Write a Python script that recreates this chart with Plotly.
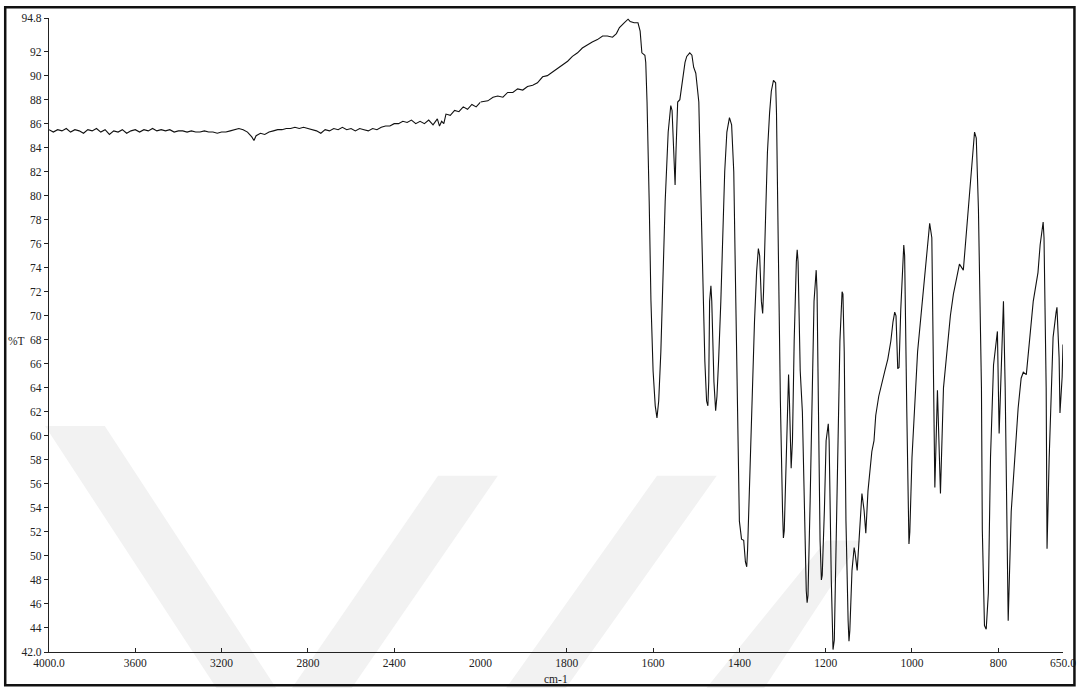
import plotly.graph_objects as go

# ---------------- data ----------------
wavenumber_high = [
    4000, 3980, 3960, 3940, 3920, 3900, 3880, 3860, 3840, 3820, 3800, 3780, 3760, 3740, 3720,
    3700, 3680, 3660, 3640, 3620, 3600, 3580, 3560, 3540, 3520, 3500, 3480, 3460, 3440, 3420,
    3400, 3380, 3360, 3340, 3320, 3300, 3280, 3260, 3240, 3220, 3200, 3180, 3160, 3140, 3120,
    3100, 3080, 3060, 3050, 3040, 3020, 3000, 2980, 2960, 2940, 2920, 2900, 2880, 2860, 2840,
    2820, 2800, 2780, 2760, 2740, 2720, 2700, 2680, 2660, 2640, 2620, 2600, 2580, 2560, 2540,
    2520, 2500, 2480, 2460, 2440, 2420, 2400, 2380, 2360, 2340, 2320, 2300, 2280, 2260, 2240,
    2220, 2200, 2190, 2180, 2170, 2160, 2140, 2120, 2100, 2080, 2060, 2040, 2020, 2000,
]
transmittance_high = [
    85.5, 85.3, 85.5, 85.4, 85.6, 85.3, 85.5, 85.4, 85.2, 85.5, 85.4, 85.6, 85.3, 85.5, 85.1,
    85.4, 85.3, 85.5, 85.2, 85.4, 85.5, 85.3, 85.5, 85.4, 85.6, 85.4, 85.5, 85.4, 85.5, 85.3,
    85.4, 85.4, 85.3, 85.4, 85.3, 85.3, 85.4, 85.3, 85.3, 85.2, 85.3, 85.3, 85.4, 85.5, 85.6,
    85.5, 85.3, 84.9, 84.6, 85.0, 85.2, 85.1, 85.3, 85.4, 85.5, 85.5, 85.6, 85.6, 85.7, 85.6,
    85.7, 85.6, 85.5, 85.4, 85.2, 85.5, 85.4, 85.6, 85.5, 85.7, 85.5, 85.6, 85.4, 85.6, 85.5,
    85.4, 85.6, 85.5, 85.7, 85.8, 85.8, 86.0, 86.0, 86.2, 86.1, 86.3, 86.0, 86.2, 86.0, 86.3,
    85.9, 86.4, 85.8, 86.2, 86.0, 86.8, 86.7, 87.1, 87.0, 87.4, 87.2, 87.6, 87.4, 87.8,
]

wavenumber_low = [
    2000, 1983, 1971, 1960, 1948, 1937, 1925, 1914, 1902, 1891, 1879, 1868, 1856, 1845, 1833,
    1821, 1810, 1798, 1787, 1775, 1764, 1752, 1741, 1729, 1717, 1706, 1694, 1685, 1678, 1667,
    1658, 1653, 1644, 1635, 1630, 1626, 1619, 1617, 1614, 1609, 1605, 1600, 1595, 1591, 1587,
    1582, 1577, 1572, 1565, 1561, 1559, 1556, 1554, 1549, 1547, 1543, 1538, 1533, 1526, 1522,
    1515, 1510, 1506, 1501, 1494, 1490, 1485, 1480, 1476, 1473, 1471, 1469, 1466, 1464, 1459,
    1455, 1452, 1450, 1448, 1443, 1439, 1434, 1429, 1425, 1423, 1418, 1413, 1409, 1404, 1400,
    1395, 1390, 1386, 1383, 1381, 1376, 1372, 1365, 1360, 1356, 1353, 1349, 1346, 1344, 1339,
    1335, 1330, 1326, 1321, 1316, 1314, 1310, 1305, 1300, 1298, 1296, 1291, 1286, 1284, 1280,
    1277, 1273, 1268, 1266, 1264, 1259, 1254, 1250, 1245, 1243, 1241, 1236, 1231, 1227, 1222,
    1220, 1217, 1213, 1210, 1208, 1203, 1199, 1194, 1192, 1187, 1183, 1180, 1176, 1171, 1167,
    1162, 1160, 1157, 1153, 1148, 1146, 1144, 1139, 1134, 1132, 1127, 1123, 1116, 1111, 1107,
    1102, 1097, 1093, 1088, 1084, 1077, 1070, 1063, 1056, 1049, 1044, 1040, 1037, 1033, 1030,
    1026, 1019, 1017, 1012, 1007, 1005, 1000, 987, 980, 973, 964, 959, 954, 947, 941,
    934, 927, 917, 911, 904, 890, 881, 876, 869, 862, 855, 851, 846, 839, 837,
    832, 828, 823, 818, 811, 802, 798, 793, 788, 784, 779, 777, 770, 761, 754,
    747, 742, 735, 731, 726, 719, 708, 703, 696, 694, 689, 687, 682, 678, 673,
    666, 664, 659, 657, 652, 650,
]
transmittance_low = [
    87.8, 87.9, 88.2, 88.3, 88.2, 88.6, 88.6, 88.9, 88.8, 89.1, 89.2, 89.4, 89.9, 90.0, 90.3,
    90.6, 90.9, 91.2, 91.6, 91.9, 92.3, 92.6, 92.8, 93.0, 93.3, 93.3, 93.2, 93.5, 94.0, 94.4,
    94.7, 94.5, 94.4, 94.4, 93.7, 91.9, 91.7, 91.1, 87.8, 79.5, 71.3, 65.4, 62.5, 61.5, 62.9,
    67.0, 74.5, 79.5, 85.3, 87.3, 87.5, 87.1, 85.3, 80.9, 83.6, 87.8, 88.0, 89.4, 91.1, 91.6,
    91.9, 91.7, 90.7, 90.2, 87.8, 81.2, 72.8, 66.2, 62.9, 62.5, 64.5, 71.2, 72.5, 71.2, 64.5,
    62.1, 63.3, 66.0, 66.4, 71.2, 77.0, 82.0, 85.3, 86.3, 86.5, 85.9, 82.0, 72.8, 61.2, 52.9,
    51.4, 51.3, 49.5, 49.1, 50.5, 56.3, 62.9, 69.5, 73.7, 75.6, 75.0, 71.2, 70.2, 72.0, 78.6,
    83.6, 86.9, 88.7, 89.6, 89.4, 86.9, 75.3, 62.9, 53.8, 51.5, 52.1, 59.6, 65.1, 62.9, 57.3,
    59.6, 67.9, 74.5, 75.5, 74.5, 65.4, 62.0, 54.6, 47.1, 46.1, 46.7, 54.6, 64.5, 71.2, 73.8,
    72.0, 62.9, 51.3, 48.0, 48.4, 53.8, 59.6, 61.0, 59.6, 48.0, 42.2, 43.0, 51.3, 60.4, 67.9,
    72.0, 71.8, 67.0, 52.9, 44.6, 42.9, 43.8, 48.8, 50.7, 50.3, 48.8, 51.3, 55.2, 53.8, 51.9,
    55.4, 57.3, 58.7, 59.6, 61.7, 63.3, 64.5, 65.4, 66.4, 67.9, 69.5, 70.3, 70.0, 65.6, 65.7,
    70.5, 75.9, 75.0, 62.0, 51.0, 52.0, 58.2, 67.0, 69.7, 72.1, 75.3, 77.7, 76.5, 55.7, 63.8,
    55.2, 64.0, 67.6, 70.0, 71.8, 74.3, 73.8, 75.9, 78.9, 82.4, 85.3, 84.8, 78.9, 64.0, 52.2,
    44.2, 43.9, 46.9, 58.2, 65.9, 68.7, 60.2, 66.5, 71.2, 64.0, 50.8, 44.6, 53.7, 59.1, 62.3,
    64.8, 65.3, 65.1, 66.5, 68.8, 71.2, 73.6, 75.9, 77.8, 76.5, 64.0, 50.6, 58.2, 63.5, 68.2,
    70.3, 70.7, 66.5, 61.9, 64.9, 67.6,
]

x_ticks_high = [4000, 3600, 3200, 2800, 2400, 2000]
x_ticktext_high = ["4000.0", "3600", "3200", "2800", "2400", "2000"]
x_ticks_low = [1800, 1600, 1400, 1200, 1000, 800, 650]
x_ticktext_low = ["1800", "1600", "1400", "1200", "1000", "800", "650.0"]
y_ticks = [42.0, 44, 46, 48, 50, 52, 54, 56, 58, 60, 62, 64, 66, 68, 70, 72, 74, 76, 78,
           80, 82, 84, 86, 88, 90, 92, 94.8]
y_ticktext = ["42.0"] + [str(v) for v in y_ticks[1:-1]] + ["94.8"]

x_title = "cm-1"
y_title = "%T"

# ---------------- layout geometry ----------------
W, H = 1088, 688
ML, MR, MT, MB = 49, 20, 15, 36
PW, PH = W - ML - MR, H - MT - MB
SPLIT = 2000.0 / 4700.0   # 4000-2000 drawn at half the scale of 2000-650
FONT = "Liberation Serif, Times New Roman, serif"


def px(x):
    return (x - ML) / PW


def py(y):
    return (H - MB - y) / PH


def poly(points):
    return "M " + " L ".join(f"{px(a):.4f},{py(b):.4f}" for a, b in points) + " Z"


fig = go.Figure()
line_style = dict(color="#111111", width=1.1)
fig.add_trace(go.Scatter(x=wavenumber_high, y=transmittance_high, mode="lines",
                         line=line_style, xaxis="x", yaxis="y", showlegend=False,
                         hoverinfo="skip"))
fig.add_trace(go.Scatter(x=wavenumber_low, y=transmittance_low, mode="lines",
                         line=line_style, xaxis="x2", yaxis="y", showlegend=False,
                         hoverinfo="skip"))

axis_common = dict(showgrid=False, zeroline=False, showline=True, linecolor="#222222",
                   linewidth=1.2, ticks="inside", ticklen=4, tickcolor="#222222",
                   tickfont=dict(family=FONT, size=11.5, color="#222222"))

fig.update_layout(
    width=W, height=H,
    margin=dict(l=ML, r=MR, t=MT, b=MB, pad=0),
    paper_bgcolor="white", plot_bgcolor="rgba(0,0,0,0)",
    xaxis=dict(domain=[0, SPLIT], range=[4000, 2000], tickmode="array",
               tickvals=x_ticks_high, ticktext=x_ticktext_high, anchor="y", **axis_common),
    xaxis2=dict(domain=[SPLIT, 1], range=[2000, 650], tickmode="array",
                tickvals=x_ticks_low, ticktext=x_ticktext_low, anchor="y", **axis_common),
    yaxis=dict(range=[42.0, 94.8], tickmode="array", tickvals=y_ticks, ticktext=y_ticktext,
               anchor="x", showgrid=False, zeroline=False, showline=True,
               linecolor="#222222", linewidth=1.2, ticks="outside", ticklen=4,
               tickcolor="#222222",
               tickfont=dict(family=FONT, size=11.5, color="#222222")),
    font=dict(family=FONT, size=11.5, color="#222222"),
)

# axis titles as text annotations
fig.add_annotation(text=x_title, xref="paper", yref="paper", x=px(558), y=py(679),
                   showarrow=False, xanchor="center", yanchor="middle",
                   font=dict(family=FONT, size=11.5, color="#222222"))
fig.add_annotation(text=y_title, xref="paper", yref="paper", x=px(16), y=py(340),
                   showarrow=False, xanchor="center", yanchor="middle",
                   font=dict(family=FONT, size=11.5, color="#222222"))

# faint background watermark stripes
wm = "#f2f2f2"
for pts in [
    [(45, 425), (105, 425), (285, 700), (225, 700)],
    [(285, 700), (345, 700), (500, 475), (440, 475)],
    [(500, 700), (560, 700), (720, 475), (660, 475)],
    [(700, 700), (760, 700), (865, 540), (830, 540)],
]:
    fig.add_shape(type="path", path=poly(pts), xref="paper", yref="paper",
                  fillcolor=wm, line=dict(width=0), layer="below")

# outer frame
fig.add_shape(type="rect", xref="paper", yref="paper",
              x0=px(5), x1=px(1079.5), y0=py(685.5), y1=py(4.3),
              line=dict(color="#111111", width=2.5), layer="above")

fig.write_html("out.html", config={"displayModeBar": False},
               post_script="document.body.style.margin='0';"
                           "document.body.style.overflow='hidden';")
